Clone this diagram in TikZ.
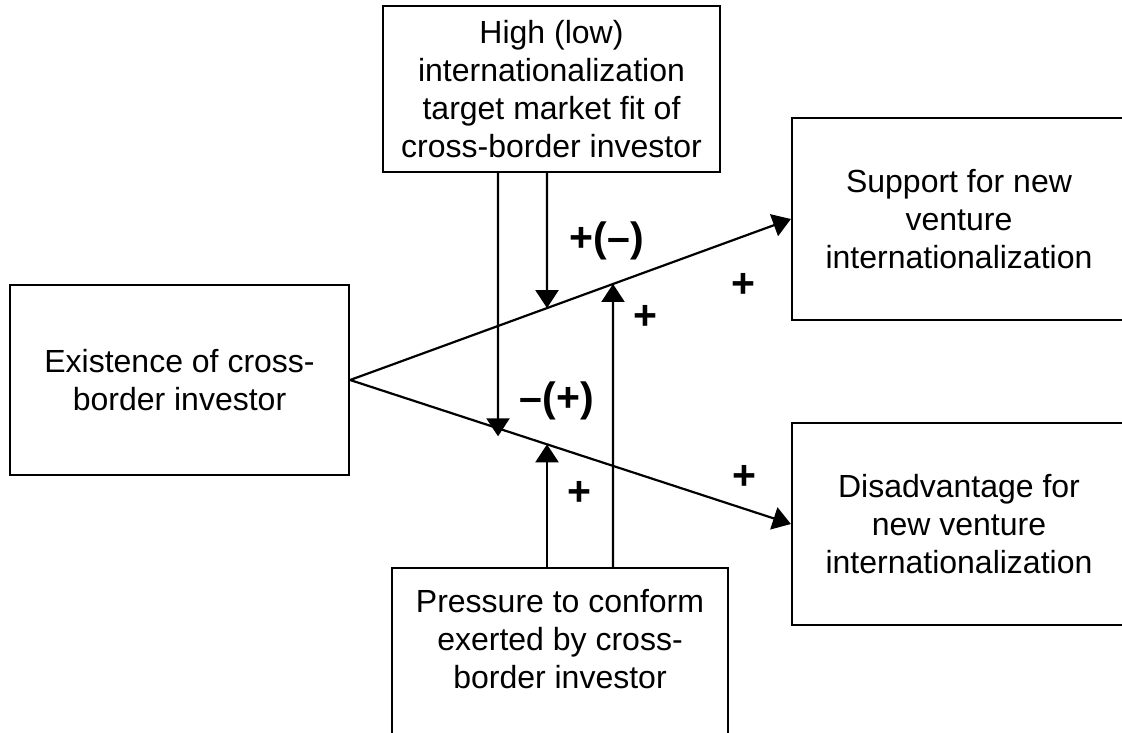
\documentclass[tikz,border=0pt]{standalone}
\usepackage{fontspec}
\setmainfont{Liberation Sans}
\usetikzlibrary{arrows.meta}

\begin{document}
\begin{tikzpicture}[x=1pt, y=-1pt, >={Triangle[length=18pt,width=23pt]}, line width=2.2pt,
    box/.style={draw, rectangle, inner sep=0pt, align=center, font=\fontsize{32}{38}\selectfont},
    sign/.style={inner sep=0pt, font=\fontsize{41}{45}\selectfont\bfseries}]
    \useasboundingbox (0,0) rectangle (1122,733);

    % boxes
    \node[box, minimum width=339pt, minimum height=190pt] (exist) at (179.5,380) {Existence of cross-\\border investor};
    \node[box, minimum width=337pt, minimum height=166pt] (fit) at (551.5,89) {High (low)\\internationalization\\target market fit of\\cross-border investor};
    \node[box, anchor=north, minimum width=336pt, inner ysep=21pt, text depth=160pt] (press) at (560,567) {Pressure to conform\\exerted by cross-\\border investor};
    \node[box, minimum width=334pt, minimum height=202pt] (support) at (959,219) {Support for new\\venture\\internationalization};
    \node[box, minimum width=334pt, minimum height=202pt] (disadv) at (959,524) {Disadvantage for\\new venture\\internationalization};

    % main effects
    \draw[->] (exist.east) -- (support.west);
    \draw[->] (exist.east) -- (disadv.west);

    % moderating effects
    \coordinate (xa) at (498,0);
    \coordinate (xb) at (547,0);
    \coordinate (xc) at (613,0);
    \coordinate (fa) at (fit.south -| xa);
    \coordinate (fb) at (fit.south -| xb);
    \coordinate (pb) at (press.north -| xb);
    \coordinate (pc) at (press.north -| xc);
    \draw[->, shorten >=-8pt] (fa) -- (intersection of exist.east--disadv.west and fa--xa);
    \draw[->] (fb) -- (intersection of exist.east--support.west and fb--xb);
    \draw[->] (pb) -- (intersection of exist.east--disadv.west and pb--xb);
    \draw[->] (pc) -- (intersection of exist.east--support.west and pc--xc);

    % signs
    \node[sign] (sfit) at (607,241) {+(–)};
    \node[sign] (sfitlow) at (557,401) {–(+)};
    \node[sign] (spressup) at (645,317) {+};
    \node[sign] (spresslow) at (579,493) {+};
    \node[sign] (ssupport) at (743,285) {+};
    \node[sign] (sdisadv) at (744,477) {+};
\end{tikzpicture}
\end{document}
